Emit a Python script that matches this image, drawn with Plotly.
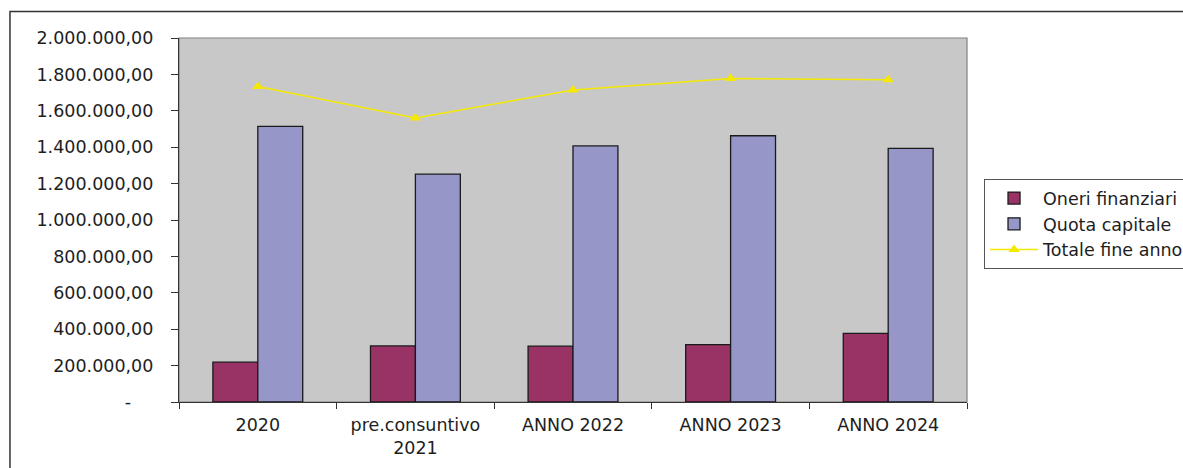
import plotly.graph_objects as go

categories = ["2020", "pre.consuntivo<br>2021", "ANNO 2022", "ANNO 2023", "ANNO 2024"]
oneri_finanziari = [219000, 308000, 307000, 315000, 377000]
quota_capitale = [1514000, 1252000, 1407000, 1463000, 1393000]
totale_fine_anno = [1733000, 1560000, 1714000, 1778000, 1770000]

y_tickvals = [0, 200000, 400000, 600000, 800000, 1000000, 1200000, 1400000, 1600000, 1800000, 2000000]
y_ticktext = ["-\u00a0\u00a0\u00a0\u00a0", "200.000,00", "400.000,00", "600.000,00", "800.000,00", "1.000.000,00",
              "1.200.000,00", "1.400.000,00", "1.600.000,00", "1.800.000,00", "2.000.000,00"]

FONT = "DejaVu Sans"
TXT = "#1e1e1e"

fig = go.Figure()
fig.add_trace(go.Bar(
    x=categories, y=oneri_finanziari, name="Oneri finanziari",
    marker=dict(color="#993366", line=dict(color="#1a1a1a", width=1.3)),
))
fig.add_trace(go.Bar(
    x=categories, y=quota_capitale, name="Quota capitale",
    marker=dict(color="#9696C8", line=dict(color="#1a1a1a", width=1.3)),
))
fig.add_trace(go.Scatter(
    x=categories, y=totale_fine_anno, name="Totale fine anno",
    mode="lines+markers",
    line=dict(color="#F5E900", width=1.5),
    marker=dict(symbol="triangle-up", size=10, color="#F5E900"),
))

fig.update_layout(
    width=1183, height=468,
    margin=dict(l=179, r=216, t=37.5, b=66, autoexpand=False),
    paper_bgcolor="white",
    plot_bgcolor="#C8C8C8",
    barmode="group",
    bargap=0.43,
    bargroupgap=0,
    font=dict(family=FONT, size=17.5, color=TXT),
    showlegend=True,
    legend=dict(
        x=1.0216, y=0.612, xanchor="left", yanchor="top",
        bgcolor="white", bordercolor="#555555", borderwidth=1,
        font=dict(family=FONT, size=17.5, color=TXT),
        traceorder="normal",
        itemwidth=48,
    ),
    xaxis=dict(
        type="category",
        tickson="boundaries",
        ticks="outside", ticklen=6, tickcolor="#333333", tickwidth=1,
        ticklabelstandoff=7,
        showline=True, linecolor="#333333", linewidth=1.2,
        showgrid=False, zeroline=False,
        tickfont=dict(family=FONT, size=17.5, color=TXT),
    ),
    yaxis=dict(
        range=[0, 2000000],
        tickmode="array", tickvals=y_tickvals, ticktext=y_ticktext,
        ticks="outside", ticklen=7, tickcolor="#333333", tickwidth=1,
        ticklabelstandoff=14,
        showline=True, linecolor="#333333", linewidth=1.2,
        showgrid=False, zeroline=False,
        tickfont=dict(family=FONT, size=17.5, color=TXT),
    ),
    shapes=[
        dict(type="rect", xref="paper", yref="paper", x0=0, y0=0, x1=1, y1=1,
             line=dict(color="#808080", width=1.2), layer="below"),
        dict(type="rect", xref="paper", yref="paper", x0=-0.2145, y0=-0.4, x1=1.4, y1=1.0727,
             line=dict(color="#333333", width=1.5), fillcolor="rgba(0,0,0,0)", layer="above"),
    ],
)

fig.write_html("out.html", config={"displayModeBar": False},
               post_script="document.body.style.margin='0px';")
